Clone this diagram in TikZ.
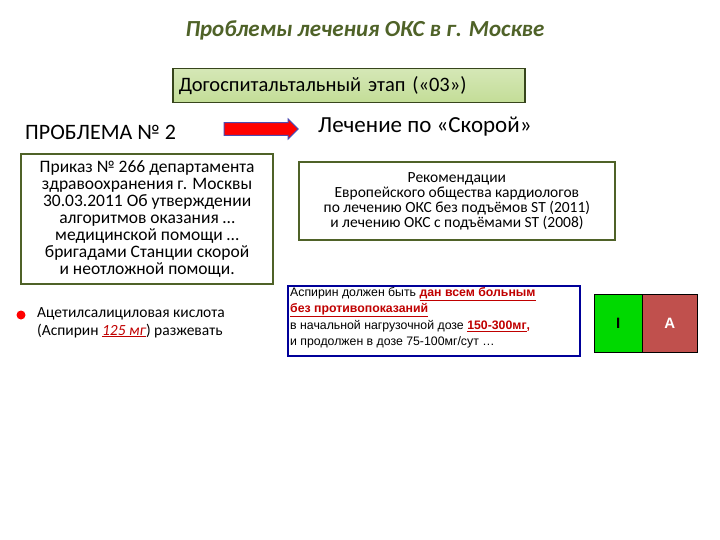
\documentclass[tikz,border=0pt]{standalone}
\usepackage{fontspec}
\setmainfont{Carlito}
\newfontfamily\arial{Liberation Sans}
\usetikzlibrary{shapes.arrows}
\definecolor{olive}{HTML}{4F6228}
\definecolor{lgreen}{HTML}{C3DD97}
\definecolor{darkred}{HTML}{C00000}
\definecolor{boxred}{HTML}{C0504D}
\tikzset{olivebox/.style={draw=olive,line width=2.2pt,fill=white,align=center},
 txt/.style={inner sep=0pt,anchor=west}}
\begin{document}
\begin{tikzpicture}[x=1pt,y=-1pt]
\useasboundingbox (0,0) rectangle (720,540);
\node[font=\fontsize{23}{26}\selectfont\bfseries\itshape,text=olive] (title) at (365,30) {Проблемы лечения ОКС в г. Москве};
\node[draw=olive!70!black,line width=1.5pt,top color=lgreen!70,bottom color=lgreen,minimum width=352pt,minimum height=34pt,anchor=north west,text width=340pt,font=\fontsize{20.5}{23}\selectfont] (stage) at (172,68) {Догоспитальтальный этап («03»)};
\node[txt,font=\fontsize{22}{25}\selectfont] (prob) at (25,132) {ПРОБЛЕМА № 2};
\node[txt,font=\fontsize{23}{26}\selectfont] (treat) at (318,127) {Лечение по «Скорой»};
\node[single arrow,draw=blue!40!gray,fill=red,line width=1pt,minimum height=74pt,minimum width=20pt,single arrow head extend=2pt,inner sep=3pt] (arr) at (258,129) {};
\node[olivebox,minimum width=252pt,minimum height=130pt,anchor=north west,inner sep=2pt,font=\fontsize{17.5}{17}\selectfont] (order) at (20,153) {Приказ № 266 департамента\\ здравоохранения г. Москвы\\ 30.03.2011 Об утверждении\\ алгоритмов оказания …\\ медицинской помощи …\\ бригадами Станции скорой\\ и неотложной помощи.};
\node[olivebox,line width=1.8pt,minimum width=316pt,minimum height=78pt,anchor=north west,inner sep=2pt,font=\fontsize{15.5}{15}\selectfont] (rec) at (298,161) {Рекомендации\\ Европейского общества кардиологов\\ по лечению ОКС без подъёмов ST (2011)\\ и лечению ОКС с подъёмами ST (2008)};
\fill[red] (21,315) circle (4.5pt);
\node[txt,align=left,anchor=north west,font=\fontsize{15.5}{18}\selectfont] (asa) at (37,307) {Ацетилсалициловая кислота\\ (Аспирин {\color{darkred}\underline{\itshape 125 мг}}) разжевать};
\node[draw=blue!60!black,line width=1.5pt,minimum width=292pt,minimum height=70pt,anchor=north west,inner sep=0pt] (asp) at (287,285) {};
\node[anchor=north west,align=left,inner sep=0pt,font=\arial\fontsize{12.3}{16.5}\selectfont] (asptxt) at (290,287) {Аспирин должен быть {\color{darkred}\bfseries\underline{дан всем больным}}\\ {\color{darkred}\bfseries\underline{без противопоказаний}}\\ в начальной нагрузочной дозе {\color{darkred}\bfseries\underline{150-300мг},}\\ и продолжен в дозе 75-100мг/сут …};
\node[draw=black,fill=green!85!black,minimum width=48pt,minimum height=58pt,anchor=north west,inner sep=0pt,font=\arial\bfseries\fontsize{15}{17}\selectfont] (cI) at (594,294) {I};
\node[draw=black,fill=boxred,text=white,minimum width=55pt,minimum height=58pt,anchor=north west,inner sep=0pt,font=\arial\bfseries\fontsize{15}{17}\selectfont] (cA) at (642,294) {A};
\end{tikzpicture}
\end{document}
